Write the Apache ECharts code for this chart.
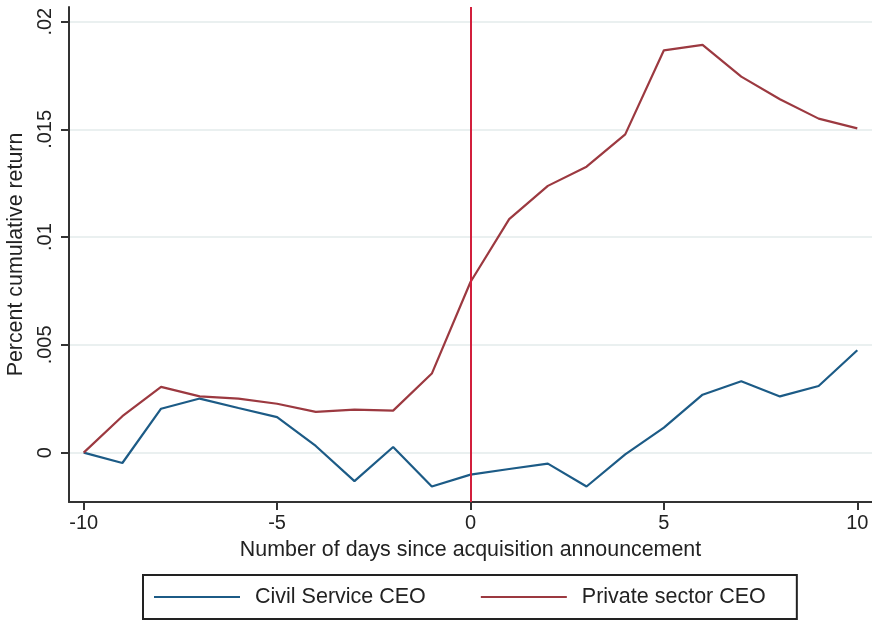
<!DOCTYPE html>
<html>
<head>
<meta charset="utf-8">
<script src="https://cdn.jsdelivr.net/npm/echarts@6/dist/echarts.min.js"></script>
<style>
html,body{margin:0;padding:0;background:#fff;}
#chart{width:872px;height:621px;}
</style>
</head>
<body>
<div id="chart"></div>
<script>
var days = [-10,-9,-8,-7,-6,-5,-4,-3,-2,-1,0,1,2,3,4,5,6,7,8,9,10];
var civilService = [0,-0.00048,0.00204,0.00251,0.00207,0.00165,0.00031,-0.00132,0.00026,-0.00157,-0.00102,-0.00076,-0.00051,-0.00157,-0.00008,0.00116,0.00269,0.00331,0.00261,0.00309,0.00475];
var privateSector = [0,0.00169,0.00305,0.00261,0.00251,0.00227,0.00189,0.00200,0.00195,0.00367,0.00792,0.01084,0.01238,0.01327,0.01477,0.01867,0.01892,0.01745,0.01640,0.01550,0.01505];
var xTicks = [-10,-5,0,5,10];
var xTickLabels = ['-10','-5','0','5','10'];
var yTicks = [0,0.005,0.01,0.015,0.02];
var yTickLabels = ['0','.005','.01','.015','.02'];
var eventDay = 0;

function pairs(xs, ys){ return xs.map(function(x,i){ return [x, ys[i]]; }); }

var FONT = '"Liberation Sans", Arial, Helvetica, sans-serif';
var chart = echarts.init(document.getElementById('chart'), null, {renderer:'canvas'});
chart.setOption({
  animation:false,
  backgroundColor:'#ffffff',
  textStyle:{fontFamily:FONT, color:'#222'},
  grid:{left:69, top:7, width:803, height:495, containLabel:false, outerBoundsMode:'none'},
  xAxis:{
    type:'value', min:-10.38, max:10.38,
    name:'Number of days since acquisition announcement',
    nameLocation:'middle', nameGap:38,
    nameTextStyle:{fontFamily:FONT, fontSize:21.4, color:'#222'},
    axisLine:{show:true, onZero:false, lineStyle:{color:'#333', width:2}},
    axisTick:{show:true, inside:false, length:8, lineStyle:{color:'#333', width:2}, customValues:xTicks},
    axisLabel:{fontFamily:FONT, fontSize:20, color:'#222', margin:11, customValues:xTicks,
      formatter:function(v){ var i = xTicks.indexOf(v); return i>=0 ? xTickLabels[i] : ''; }},
    splitLine:{show:false}
  },
  yAxis:{
    type:'value', min:-0.00229, max:0.02068,
    name:'Percent cumulative return',
    nameLocation:'middle', nameGap:39, nameRotate:90,
    nameTextStyle:{fontFamily:FONT, fontSize:21.4, color:'#222'},
    axisLine:{show:true, onZero:false, lineStyle:{color:'#333', width:2}},
    axisTick:{show:true, inside:false, length:8, lineStyle:{color:'#333', width:2}, customValues:yTicks},
    axisLabel:{fontFamily:FONT, fontSize:20, color:'#222', margin:14, rotate:90, customValues:yTicks,
      formatter:function(v){ for (var i=0;i<yTicks.length;i++){ if (Math.abs(yTicks[i]-v)<1e-9) return yTickLabels[i]; } return ''; }},
    splitLine:{show:true, lineStyle:{color:'#eaf0f0', width:2}}
  },
  legend:{
    left:143, top:575,
    orient:'horizontal',
    icon:'rect',
    itemWidth:86, itemHeight:2, itemGap:55,
    padding:[11,31,11,11],
    borderColor:'#222', borderWidth:2,
    textStyle:{fontFamily:FONT, fontSize:21.5, color:'#222', padding:[0,0,0,10], lineHeight:22},
    data:['Civil Service CEO','Private sector CEO']
  },
  series:[
    {
      name:'Civil Service CEO', type:'line', data:pairs(days, civilService),
      symbol:'none', showSymbol:false,
      lineStyle:{color:'#1c5b86', width:2.2}, itemStyle:{color:'#1c5b86'}, z:3
    },
    {
      name:'Private sector CEO', type:'line', data:pairs(days, privateSector),
      symbol:'none', showSymbol:false,
      lineStyle:{color:'#9c3940', width:2.2}, itemStyle:{color:'#9c3940'}, z:3,
      markLine:{
        silent:true, symbol:['none','none'], label:{show:false},
        lineStyle:{color:'#d21f3c', width:2, type:'solid'},
        data:[{xAxis:eventDay}]
      }
    }
  ]
});
</script>
</body>
</html>
